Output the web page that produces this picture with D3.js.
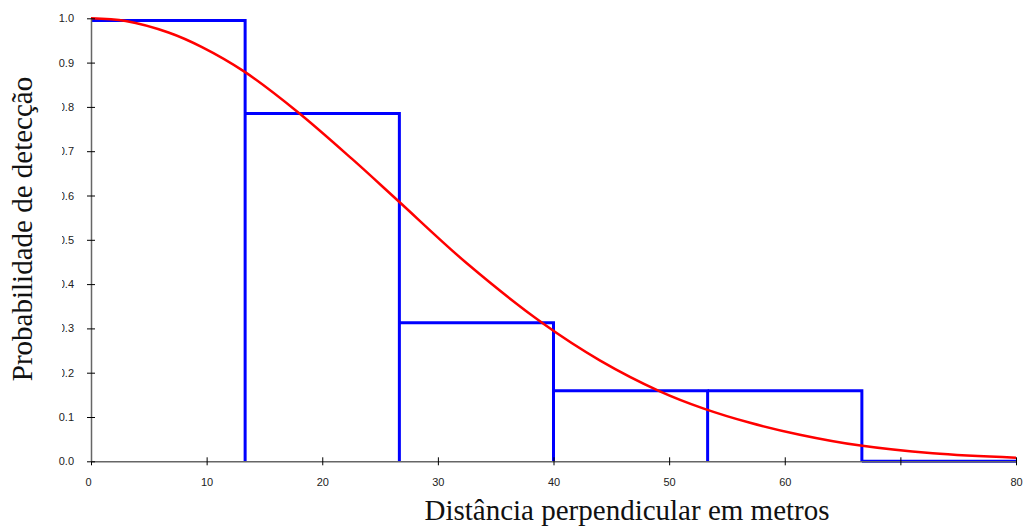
<!DOCTYPE html>
<html>
<head>
<meta charset="utf-8">
<script src="https://cdn.jsdelivr.net/npm/d3@7"></script>
<style>
  body { margin: 0; background: #fff; }
  svg { display: block; }
  .tick text { font-family: "Liberation Sans", Arial, sans-serif; font-size: 11px; fill: #222; }
  .title { font-family: "Liberation Serif", "Times New Roman", serif; font-size: 29px; fill: #111; }
</style>
</head>
<body>
<script>
// histogram of detections (bin edges and scaled heights)
const binEdges = [0, 13.33, 26.67, 40, 53.33, 66.67, 80];
const binHeights = [0.995, 0.785, 0.313, 0.159, 0.159, 0];

// fitted detection function
const curveX = [0, 3, 6.7, 9.6, 13.3, 17.9, 22.6, 26.6, 32.5, 39.1, 44, 49.2, 53, 57, 61.3, 66.4, 72.8, 80];
const curveY = [1.0, 0.994, 0.968, 0.935, 0.879, 0.788, 0.682, 0.587, 0.447, 0.311, 0.228, 0.158, 0.119, 0.087, 0.06, 0.036, 0.018, 0.008];

const xTicks = [0, 10, 20, 30, 40, 50, 60, 70, 80];
const xTickLabels = ['0', '10', '20', '30', '40', '50', '60', '', '80'];
const yTicks = [0, 0.1, 0.2, 0.3, 0.4, 0.5, 0.6, 0.7, 0.8, 0.9, 1.0];

const W = 1032, H = 527;

const svg = d3.select('body').append('svg')
    .attr('width', W)
    .attr('height', H);

const x = d3.scaleLinear().domain([0, 80]).range([91, 1016]);
const y = d3.scaleLinear().domain([0, 1]).range([461.3, 18.3]);

// bins: top edge plus right edge, like a step outline
const bins = binHeights.map((h, i) => ({ x0: binEdges[i], x1: binEdges[i + 1], h }));

svg.append('g')
  .selectAll('path')
  .data(bins)
  .join('path')
    .attr('fill', 'none')
    .attr('stroke', '#0000ff')
    .attr('stroke-width', 3)
    .attr('d', d => `M${x(d.x0)},${y(d.h)}H${x(d.x1)}V${y(0)}`);

// detection curve
const line = d3.line()
    .x(d => x(d[0]))
    .y(d => y(d[1]))
    .curve(d3.curveCatmullRom.alpha(0.5));

svg.append('path')
    .datum(d3.zip(curveX, curveY))
    .attr('fill', 'none')
    .attr('stroke', '#ff0000')
    .attr('stroke-width', 2.5)
    .attr('d', line);

/* Axes */

const xAxis = svg.append('g')
    .attr('transform', `translate(0,${y(0)})`)
    .call(d3.axisBottom(x)
      .tickValues(xTicks)
      .tickFormat((d, i) => xTickLabels[i])
      .tickSize(4)
      .tickSizeOuter(0)
      .tickPadding(13));

xAxis.selectAll('.tick line').attr('y1', -4).attr('stroke', '#000');
xAxis.selectAll('.tick text').filter(d => d === 0).attr('dx', -3);

const yAxis = svg.append('g')
    .attr('transform', `translate(${x(0)},0)`)
    .call(d3.axisLeft(y)
      .tickValues(yTicks)
      .tickFormat(d3.format('.1f'))
      .tickSize(4)
      .tickSizeOuter(0)
      .tickPadding(13));

yAxis.selectAll('.tick line').attr('x1', 4).attr('stroke', '#000');

[xAxis, yAxis].forEach(a => {
    a.select('.domain').attr('stroke', '#666').attr('stroke-width', 1.5);
    a.selectAll('.tick text').attr('font-family', null).attr('font-size', null);
});

/* Titles */

// y title sits on a white box that hides part of the tick labels
svg.append('rect')
    .attr('x', 0)
    .attr('y', 80)
    .attr('width', 62)
    .attr('height', 302)
    .attr('fill', '#fff');

svg.append('text')
    .attr('class', 'title')
    .attr('text-anchor', 'middle')
    .attr('transform', 'translate(32,229) rotate(-90)')
    .text('Probabilidade de detecção');

svg.append('text')
    .attr('class', 'title')
    .attr('text-anchor', 'middle')
    .attr('x', 627)
    .attr('y', 520)
    .text('Distância perpendicular em metros');
</script>
</body>
</html>
